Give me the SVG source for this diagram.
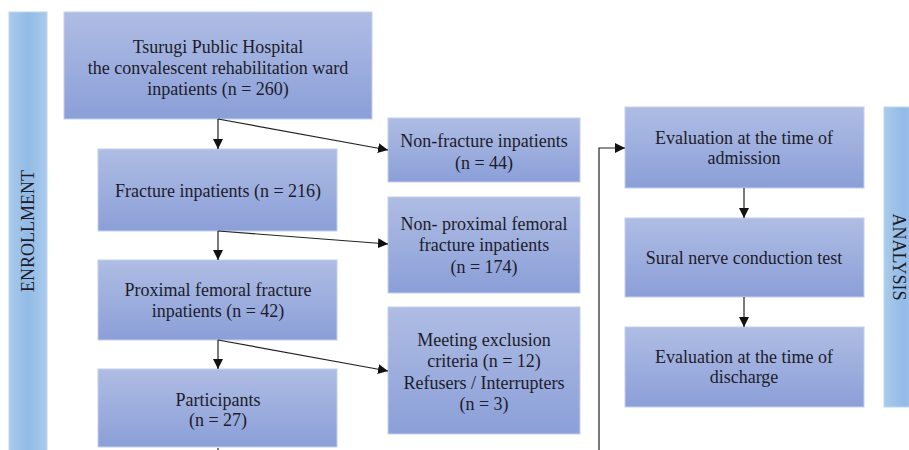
<svg xmlns="http://www.w3.org/2000/svg" width="909" height="450" viewBox="0 0 909 450">
<defs>
<linearGradient id="boxg" x1="0" y1="0" x2="0" y2="1">
<stop offset="0" stop-color="#afbde4"/>
<stop offset="1" stop-color="#8b9fd8"/>
</linearGradient>
<linearGradient id="barg" x1="0" y1="0" x2="1" y2="0">
<stop offset="0" stop-color="#a9cbeb"/>
<stop offset="0.5" stop-color="#93bbe6"/>
<stop offset="1" stop-color="#a9cbeb"/>
</linearGradient>
<marker id="ah" viewBox="0 0 10 10" refX="10" refY="5" markerWidth="10" markerHeight="10" markerUnits="userSpaceOnUse" orient="auto">
<path d="M0,0 L10,5 L0,10 z" fill="#111"/>
</marker>
<style>
.box{fill:url(#boxg);stroke:#c4cfee;stroke-width:1}
.bar{fill:url(#barg);stroke:#bcd6f0;stroke-width:1}
.t{font-size:18px;fill:#1c1c2a;text-anchor:middle}
.c{fill:none;stroke:#222;stroke-width:1.2}
</style>
</defs>
<rect width="909" height="450" fill="#ffffff"/>
<g font-family="Liberation Serif, 'Times New Roman', 'DejaVu Serif', serif">
<g id="enrollment">
<rect class="bar" x="9" y="12" width="38" height="445"/>
<text class="t" transform="translate(34,231) rotate(-90)">ENROLLMENT</text>
</g>
<g id="analysis">
<rect class="bar" x="884" y="107" width="40" height="300"/>
<text class="t" transform="translate(893,257) rotate(90)">ANALYSIS</text>
</g>
<g id="hospital">
<rect class="box" x="64" y="12" width="308" height="107"/>
<text class="t" x="218" y="53">Tsurugi Public Hospital</text>
<text class="t" x="218" y="74">the convalescent rehabilitation ward</text>
<text class="t" x="218" y="95">inpatients (n = 260)</text>
</g>
<g id="fracture">
<rect class="box" x="98" y="149" width="239" height="82"/>
<text class="t" x="218" y="197">Fracture inpatients (n = 216)</text>
</g>
<g id="proximal">
<rect class="box" x="98" y="260" width="239" height="80"/>
<text class="t" x="218" y="296">Proximal femoral fracture</text>
<text class="t" x="218" y="317">inpatients (n = 42)</text>
</g>
<g id="participants">
<rect class="box" x="98" y="369" width="239" height="78"/>
<text class="t" x="218" y="406">Participants</text>
<text class="t" x="218" y="426">(n = 27)</text>
</g>
<g id="nonfracture">
<rect class="box" x="388" y="118" width="192" height="64"/>
<text class="t" x="484" y="147">Non-fracture inpatients</text>
<text class="t" x="484" y="169">(n = 44)</text>
</g>
<g id="nonproximal">
<rect class="box" x="388" y="197" width="192" height="96"/>
<text class="t" x="484" y="230">Non- proximal femoral</text>
<text class="t" x="484" y="251">fracture inpatients</text>
<text class="t" x="484" y="273">(n = 174)</text>
</g>
<g id="exclusion">
<rect class="box" x="388" y="307" width="192" height="127"/>
<text class="t" x="484" y="346">Meeting exclusion</text>
<text class="t" x="484" y="367">criteria (n = 12)</text>
<text class="t" x="484" y="389">Refusers / Interrupters</text>
<text class="t" x="484" y="410">(n = 3)</text>
</g>
<g id="admission">
<rect class="box" x="625" y="107" width="239" height="81"/>
<text class="t" x="744" y="144">Evaluation at the time of</text>
<text class="t" x="744" y="164">admission</text>
</g>
<g id="sural">
<rect class="box" x="625" y="218" width="239" height="79"/>
<text class="t" x="744" y="264">Sural nerve conduction test</text>
</g>
<g id="discharge">
<rect class="box" x="625" y="327" width="239" height="80"/>
<text class="t" x="744" y="363">Evaluation at the time of</text>
<text class="t" x="744" y="383">discharge</text>
</g>
</g>
<g id="connectors">
<path class="c" d="M218,119 L218,149" marker-end="url(#ah)"/>
<path class="c" d="M218,119 L388,150" marker-end="url(#ah)"/>
<path class="c" d="M218,231 L218,260" marker-end="url(#ah)"/>
<path class="c" d="M218,231 L388,244" marker-end="url(#ah)"/>
<path class="c" d="M218,340 L218,369" marker-end="url(#ah)"/>
<path class="c" d="M218,340 L388,371" marker-end="url(#ah)"/>
<path class="c" d="M218,448 L218,452"/>
<path class="c" d="M599,452 L599,148 L625,148" marker-end="url(#ah)"/>
<path class="c" d="M744,188 L744,218" marker-end="url(#ah)"/>
<path class="c" d="M744,297 L744,327" marker-end="url(#ah)"/>
</g>
</svg>
